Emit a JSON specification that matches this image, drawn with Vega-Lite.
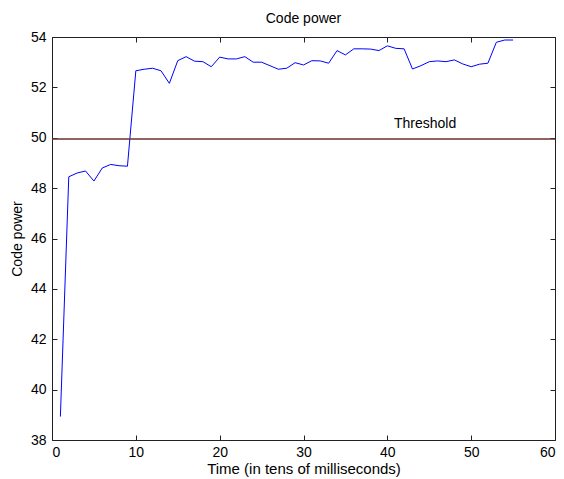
{
  "$schema": "https://vega.github.io/schema/vega-lite/v6.json",
  "autosize": "none",
  "width": 503,
  "height": 403,
  "padding": {"left": 52, "top": 37, "right": 9, "bottom": 39},
  "background": "white",
  "config": {
    "view": {"stroke": "#222222", "strokeWidth": 1},
    "font": "Liberation Sans",
    "axis": {"grid": false, "domain": false, "tickColor": "#222222", "tickSize": -5, "labelColor": "black", "labelFont": "Liberation Sans", "labelFontSize": 14, "titleFont": "Liberation Sans", "titleFontSize": 14, "titleFontWeight": "normal", "titleColor": "black"}
  },
  "title": {"text": "Code power", "fontSize": 14, "fontWeight": "normal", "font": "Liberation Sans", "color": "black", "offset": 4},
  "datasets": {
    "power": [
      {"t": 1, "p": 38.93}, {"t": 2, "p": 48.45}, {"t": 3, "p": 48.6}, {"t": 4, "p": 48.68},
      {"t": 5, "p": 48.28}, {"t": 6, "p": 48.8}, {"t": 7, "p": 48.94}, {"t": 8, "p": 48.89},
      {"t": 9, "p": 48.87}, {"t": 10, "p": 52.66}, {"t": 11, "p": 52.72}, {"t": 12, "p": 52.76},
      {"t": 13, "p": 52.66}, {"t": 14, "p": 52.16}, {"t": 15, "p": 53.06}, {"t": 16, "p": 53.22},
      {"t": 17, "p": 53.04}, {"t": 18, "p": 53.02}, {"t": 19, "p": 52.82}, {"t": 20, "p": 53.2},
      {"t": 21, "p": 53.13}, {"t": 22, "p": 53.13}, {"t": 23, "p": 53.22}, {"t": 24, "p": 53.0},
      {"t": 25, "p": 53.0}, {"t": 26, "p": 52.86}, {"t": 27, "p": 52.72}, {"t": 28, "p": 52.76},
      {"t": 29, "p": 52.98}, {"t": 30, "p": 52.89}, {"t": 31, "p": 53.06}, {"t": 32, "p": 53.05},
      {"t": 33, "p": 52.96}, {"t": 34, "p": 53.46}, {"t": 35, "p": 53.29}, {"t": 36, "p": 53.53},
      {"t": 37, "p": 53.53}, {"t": 38, "p": 53.52}, {"t": 39, "p": 53.46}, {"t": 40, "p": 53.65},
      {"t": 41, "p": 53.55}, {"t": 42, "p": 53.53}, {"t": 43, "p": 52.73}, {"t": 44, "p": 52.86},
      {"t": 45, "p": 53.02}, {"t": 46, "p": 53.05}, {"t": 47, "p": 53.02}, {"t": 48, "p": 53.09},
      {"t": 49, "p": 52.93}, {"t": 50, "p": 52.82}, {"t": 51, "p": 52.92}, {"t": 52, "p": 52.96},
      {"t": 53, "p": 53.79}, {"t": 54, "p": 53.88}, {"t": 55, "p": 53.88}
    ],
    "threshold": [{"p": 49.95}],
    "label": [{"t": 44.5, "p": 50.55, "text": "Threshold"}]
  },
  "resolve": {"axis": {"x": "independent", "y": "independent"}},
  "layer": [
    {
      "data": {"name": "power"},
      "mark": {"type": "line", "color": "#0000ff", "strokeWidth": 1},
      "encoding": {
        "x": {"field": "t", "type": "quantitative", "scale": {"domain": [0, 60], "nice": false, "zero": false}, "axis": {"orient": "bottom", "title": "Time (in tens of milliseconds)", "titleFontSize": 15, "values": [0, 10, 20, 30, 40, 50, 60], "labelPadding": 10, "titlePadding": 2}},
        "y": {"field": "p", "type": "quantitative", "scale": {"domain": [38, 54], "nice": false, "zero": false}, "axis": {"orient": "left", "title": "Code power", "values": [38, 40, 42, 44, 46, 48, 50, 52, 54], "labelPadding": 11, "titlePadding": 6}}
      }
    },
    {
      "data": {"name": "threshold"},
      "mark": {"type": "rule", "color": "#6e2f2f", "strokeWidth": 1.5},
      "encoding": {"y": {"field": "p", "type": "quantitative", "axis": null}}
    },
    {
      "data": {"name": "label"},
      "mark": {"type": "text", "fontSize": 14, "color": "black", "font": "Liberation Sans"},
      "encoding": {
        "x": {"field": "t", "type": "quantitative", "axis": {"orient": "top", "title": null, "labels": false, "values": [0, 10, 20, 30, 40, 50, 60]}},
        "y": {"field": "p", "type": "quantitative", "axis": {"orient": "right", "title": null, "labels": false, "values": [38, 40, 42, 44, 46, 48, 50, 52, 54]}},
        "text": {"field": "text"}
      }
    }
  ]
}
